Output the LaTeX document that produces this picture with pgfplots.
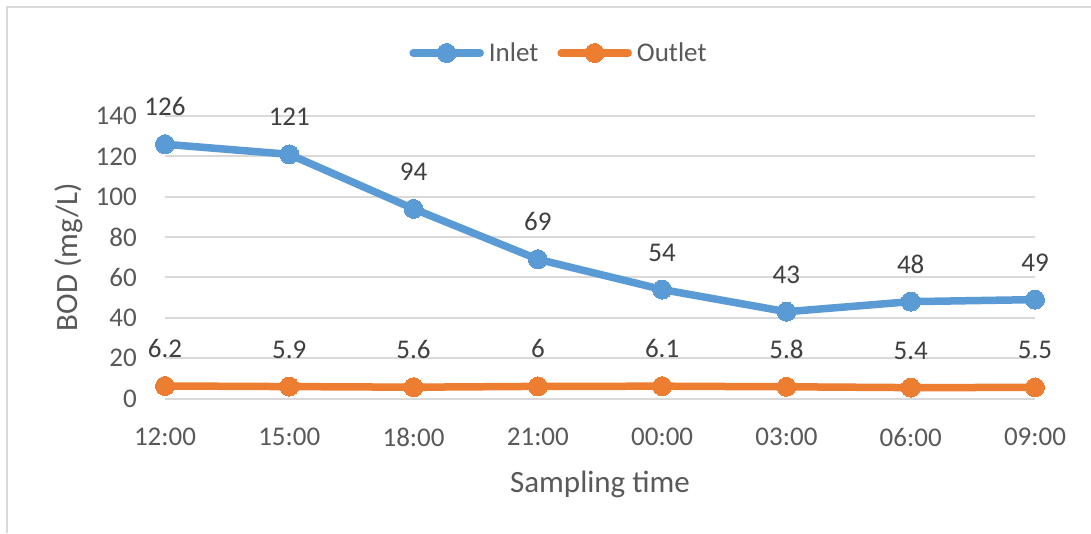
\documentclass[border=0pt]{standalone}
\usepackage{fontspec}
\setmainfont{Carlito}
\usepackage{pgfplots}
\pgfplotsset{compat=1.18}
\definecolor{cblue}{HTML}{5B9BD5}
\definecolor{corange}{HTML}{ED7D31}
\definecolor{tgray}{HTML}{595959}
\definecolor{dgray}{HTML}{404040}
\definecolor{ggray}{HTML}{D9D9D9}
\begin{document}
\begin{tikzpicture}
\useasboundingbox (0,0) rectangle (1091pt,533pt);
\fill[white] (0,0) rectangle (1091pt,533pt);
\draw[ggray, line width=2pt] (7pt,0pt) -- (7pt,526pt) -- (1091pt,526pt);
\begin{axis}[
  at={(165pt,134.5pt)}, anchor=south west,
  scale only axis, width=870pt, height=282.5pt,
  xmin=0, xmax=7, ymin=0, ymax=140,
  clip=false,
  xtick={0,...,7},
  xticklabels={12:00,15:00,18:00,21:00,00:00,03:00,06:00,09:00},
  ytick={0,20,...,140},
  ymajorgrids, grid style={ggray, line width=2pt},
  axis line style={draw=none},
  major tick length=0pt,
  /pgf/number format/assume math mode=true,
  ticklabel style={font=\fontsize{27}{32}\selectfont, text=tgray, inner sep=0pt},
  yticklabel style={anchor=east, xshift=-28pt},
  xticklabel style={anchor=north, yshift=-29.5pt},
  xlabel={Sampling time},
  ylabel={BOD (mg/L)},
  label style={font=\fontsize{31}{37}\selectfont, text=tgray, inner sep=0pt},
  xlabel style={at={(axis description cs:0.5,-0.331)}, anchor=base},
  ylabel style={at={(axis description cs:-0.1,0.5)}, anchor=base, rotate=0},
  nodes near coords,
  every node near coord/.append style={anchor=base, yshift=28.5pt, inner sep=0pt,
     font=\fontsize{27}{32}\selectfont, text=dgray},
  legend columns=-1,
  legend style={at={(axis description cs:0.4517,1.223)}, anchor=center,
     draw=none, fill=none, font=\fontsize{27}{32}\selectfont, text=tgray,
     nodes={inner sep=0pt},
     /tikz/every odd column/.append style={column sep=5pt},
     /tikz/every even column/.append style={column sep=19pt}},
  legend image code/.code={\draw[mark repeat=2,mark phase=2,#1] plot coordinates {(0pt,0pt) (33.5pt,0pt) (67pt,0pt)};},
]
\addplot[cblue, line width=7.5pt, line join=round, line cap=round, mark=*, mark size=9.5pt, mark options={solid, fill=cblue, draw=cblue, line width=0pt}]
  coordinates {(0,126) (1,121) (2,94) (3,69) (4,54) (5,43) (6,48) (7,49)};
\addplot[corange, line width=7.5pt, line join=round, line cap=round, mark=*, mark size=9.5pt, mark options={solid, fill=corange, draw=corange, line width=0pt}]
  coordinates {(0,6.2) (1,5.9) (2,5.6) (3,6) (4,6.1) (5,5.8) (6,5.4) (7,5.5)};
\legend{Inlet,Outlet}
\end{axis}
\end{tikzpicture}
\end{document}
